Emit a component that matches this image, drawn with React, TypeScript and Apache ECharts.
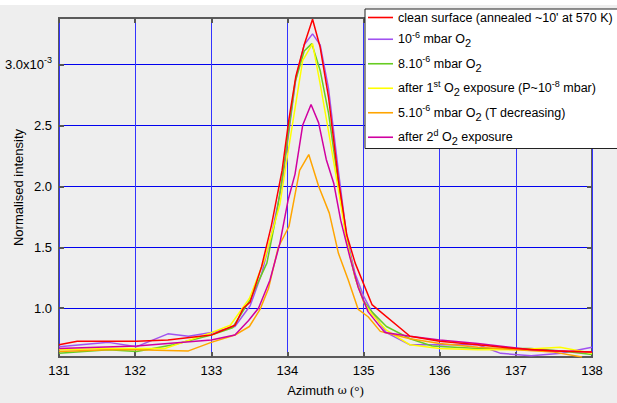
import React, { useEffect, useRef } from "react";
import * as echarts from "echarts";

// Azimuth (deg) / normalised intensity (x1e-3) per measurement
const cleanX = [131.0, 131.24, 132.02, 132.43, 133.0, 133.31, 133.42, 133.51, 133.66, 133.79, 133.93, 134.02, 134.11, 134.22, 134.33, 134.43, 134.54, 134.67, 134.78, 134.89, 135.11, 135.61, 136.0, 136.5, 137.0, 137.5, 138.0];
const cleanY = [0.70, 0.73, 0.73, 0.74, 0.78, 0.86, 1.00, 1.05, 1.34, 1.68, 2.13, 2.55, 2.90, 3.16, 3.37, 3.14, 2.73, 2.05, 1.60, 1.37, 1.03, 0.77, 0.73, 0.70, 0.67, 0.65, 0.64];

const p1e6X = [131.0, 131.65, 132.02, 132.43, 132.7, 133.0, 133.31, 133.51, 133.66, 133.79, 133.93, 134.02, 134.11, 134.22, 134.33, 134.43, 134.54, 134.67, 134.78, 134.89, 135.0, 135.11, 135.3, 135.61, 136.0, 136.5, 136.8, 137.2, 137.6, 138.0];
const p1e6Y = [0.685, 0.72, 0.685, 0.79, 0.77, 0.80, 0.85, 1.02, 1.28, 1.60, 2.02, 2.45, 2.88, 3.16, 3.25, 3.16, 2.80, 2.12, 1.58, 1.28, 1.10, 0.97, 0.80, 0.70, 0.70, 0.70, 0.63, 0.61, 0.63, 0.68];

const p8e6X = [131.0, 131.65, 132.02, 132.5, 133.0, 133.28, 133.51, 133.73, 133.86, 133.95, 134.1, 134.22, 134.32, 134.43, 134.54, 134.67, 134.78, 134.89, 135.0, 135.11, 135.3, 135.61, 135.9, 136.5, 137.2, 137.6, 138.0];
const p8e6Y = [0.63, 0.66, 0.645, 0.70, 0.78, 0.84, 1.07, 1.37, 1.78, 2.15, 2.85, 3.11, 3.17, 2.95, 2.60, 2.02, 1.55, 1.25, 1.06, 0.97, 0.85, 0.75, 0.69, 0.67, 0.67, 0.65, 0.62];

const after1X = [131.0, 131.65, 132.39, 133.0, 133.25, 133.5, 133.7, 133.9, 134.0, 134.2, 134.33, 134.43, 134.54, 134.67, 134.78, 134.89, 135.0, 135.11, 135.3, 135.61, 136.0, 136.5, 137.0, 137.58, 138.0];
const after1Y = [0.66, 0.67, 0.67, 0.80, 0.86, 1.08, 1.40, 1.85, 2.25, 3.03, 3.17, 2.84, 2.45, 1.97, 1.55, 1.25, 1.05, 0.95, 0.82, 0.70, 0.67, 0.66, 0.66, 0.68, 0.63];

const p5e6X = [131.0, 131.65, 132.02, 132.7, 133.0, 133.31, 133.5, 133.64, 133.75, 133.88, 134.02, 134.16, 134.28, 134.41, 134.55, 134.67, 134.8, 134.93, 135.06, 135.22, 135.61, 136.0, 136.5, 137.0, 137.5, 137.87];
const p5e6Y = [0.645, 0.66, 0.66, 0.65, 0.72, 0.78, 0.85, 0.99, 1.16, 1.50, 1.67, 2.13, 2.26, 2.00, 1.78, 1.45, 1.23, 0.99, 0.93, 0.81, 0.75, 0.71, 0.68, 0.66, 0.64, 0.60];

const after2X = [131.0, 132.02, 133.0, 133.31, 133.49, 133.62, 133.77, 133.9, 134.01, 134.1, 134.2, 134.31, 134.41, 134.51, 134.61, 134.7, 134.82, 134.93, 135.06, 135.28, 135.61, 136.0, 136.5, 137.2, 137.6, 138.0];
const after2Y = [0.67, 0.69, 0.74, 0.78, 0.90, 1.00, 1.23, 1.53, 1.89, 2.10, 2.50, 2.67, 2.52, 2.22, 2.02, 1.72, 1.42, 1.17, 0.97, 0.80, 0.77, 0.74, 0.71, 0.66, 0.65, 0.64];

const xTicks = [131, 132, 133, 134, 135, 136, 137, 138];
const yTicks = [1.0, 1.5, 2.0, 2.5, 3.0];

const seriesNames = ["clean", "p1e6", "p8e6", "after1", "p5e6", "after2"];
const seriesLabels: Record<string, string> = {
  clean: "{n|clean surface (annealed ~10' at 570 K)}",
  p1e6: "{n|10}{p|-6}{n| mbar O}{b|2}",
  p8e6: "{n|8.10}{p|-6}{n| mbar O}{b|2}",
  after1: "{n|after 1}{p|st}{n| O}{b|2}{n| exposure (P~10}{p|-8}{n| mbar)}",
  p5e6: "{n|5.10}{p|-6}{n| mbar O}{b|2}{n| (T decreasing)}",
  after2: "{n|after 2}{p|d}{n| O}{b|2}{n| exposure}",
};
const seriesColors = ["#ff0000", "#a052f0", "#66cc22", "#ffff00", "#ffa500", "#d000a0"];
const seriesXs = [cleanX, p1e6X, p8e6X, after1X, p5e6X, after2X];
const seriesYs = [cleanY, p1e6Y, p8e6Y, after1Y, p5e6Y, after2Y];

const FONT = "Liberation Sans, Arial, sans-serif";

export default function App() {
  const ref = useRef<HTMLDivElement>(null);
  useEffect(() => {
    if (!ref.current) return;
    const chart = echarts.init(ref.current, undefined, { renderer: "svg" });
    const series = seriesNames.map((name, i) => ({
      name,
      type: "line",
      xAxisIndex: 0,
      yAxisIndex: 0,
      symbol: "none",
      data: seriesXs[i].map((x, j) => [x, seriesYs[i][j]]),
      lineStyle: { width: 1.5, color: seriesColors[i] },
      itemStyle: { color: seriesColors[i] },
      z: i === 0 ? 8 : 3,
    }));
    chart.setOption({
      animation: false,
      backgroundColor: "#eeeeee",
      textStyle: { fontFamily: FONT },
      graphic: [
        { type: "rect", left: 0, top: 0, shape: { width: 617, height: 5 }, style: { fill: "#ffffff" }, silent: true },
      ],
      grid: {
        left: 59,
        right: 25,
        top: 18,
        bottom: 46,
        show: true,
        containLabel: false,
        outerBoundsMode: "none",
        backgroundColor: "#eeeeee",
        borderColor: "#5a5a5a",
        borderWidth: 2,
      },
      legend: {
        orient: "vertical",
        left: 365,
        top: 9,
        width: 250,
        icon: "rect",
        itemWidth: 25,
        itemHeight: 1.6,
        itemGap: 6,
        padding: [2, 6, 2, 3],
        backgroundColor: "#ffffff",
        borderColor: "#222222",
        borderWidth: 1,
        data: seriesNames,
        formatter: (name: string) => seriesLabels[name],
        textStyle: {
          fontFamily: FONT,
          fontSize: 12.5,
          color: "#000",
          rich: {
            n: { fontSize: 12.5, fontFamily: FONT, color: "#000", lineHeight: 18.5, verticalAlign: "middle" },
            p: { fontSize: 9, fontFamily: FONT, color: "#000", lineHeight: 9, verticalAlign: "top" },
            b: { fontSize: 11, fontFamily: FONT, color: "#000", lineHeight: 10, verticalAlign: "bottom" },
          },
        },
      },
      xAxis: [
        {
          type: "value",
          min: 131,
          max: 138,
          interval: 1,
          position: "bottom",
          axisLine: { show: false },
          axisTick: { inside: true, length: 5, lineStyle: { color: "#555", width: 2 } },
          splitLine: { show: true, lineStyle: { color: "#3333ff", width: 1 } },
          axisLabel: {
            color: "#000",
            fontSize: 13,
            fontFamily: FONT,
            margin: 7,
            formatter: (v: number) => (xTicks.includes(Math.round(v)) ? String(Math.round(v)) : ""),
          },
          name: "{a|Azimuth }{w|ω}{c| (°)}",
          nameLocation: "middle",
          nameGap: 27,
          nameMoveOverlap: false,
          nameTextStyle: {
            rich: {
              a: { fontSize: 13, fontFamily: FONT, color: "#000" },
              w: { fontSize: 11, fontFamily: "DejaVu Serif, serif", color: "#000" },
              c: { fontSize: 13, fontFamily: "Liberation Serif, serif", color: "#000" },
            },
          },
        },
        {
          type: "value",
          min: 131,
          max: 138,
          interval: 1,
          position: "top",
          axisLine: { show: false },
          axisTick: { inside: true, length: 5, lineStyle: { color: "#555", width: 2 } },
          splitLine: { show: false },
          axisLabel: { show: false },
        },
      ],
      yAxis: [
        {
          type: "value",
          min: 0.6,
          max: 3.38,
          position: "left",
          axisLine: { show: false },
          axisTick: { inside: true, length: 5, lineStyle: { color: "#555", width: 2 }, customValues: yTicks },
          splitLine: { show: true, lineStyle: { color: "#0000ee", width: 1 } },
          axisLabel: {
            color: "#000",
            fontSize: 13,
            fontFamily: FONT,
            margin: 7,
            customValues: yTicks,
            formatter: (v: number) =>
              Math.abs(v - 3) < 1e-6 ? "{m|3.0x10}{s|-3}" : yTicks.some((t) => Math.abs(t - v) < 1e-6) ? "{m|" + v.toFixed(1) + "}" : "",
            rich: {
              m: { fontSize: 13, fontFamily: FONT, color: "#000", lineHeight: 17, verticalAlign: "middle" },
              s: { fontSize: 9, fontFamily: FONT, color: "#000", lineHeight: 9, verticalAlign: "top" },
            },
          },
          name: "Normalised intensity",
          nameLocation: "middle",
          nameGap: 34,
          nameMoveOverlap: false,
          nameTextStyle: { fontSize: 13, fontFamily: FONT, color: "#000" },
        },
        {
          type: "value",
          min: 0.6,
          max: 3.38,
          position: "right",
          axisLine: { show: false },
          axisTick: { inside: true, length: 5, lineStyle: { color: "#555", width: 2 }, customValues: yTicks },
          splitLine: { show: false },
          axisLabel: { show: false },
        },
      ],
      series,
    });
    return () => chart.dispose();
  }, []);
  return (
    <div
      ref={ref}
      style={{ position: "fixed", left: 0, top: 0, width: 617, height: 403, background: "#eeeeee" }}
    />
  );
}
